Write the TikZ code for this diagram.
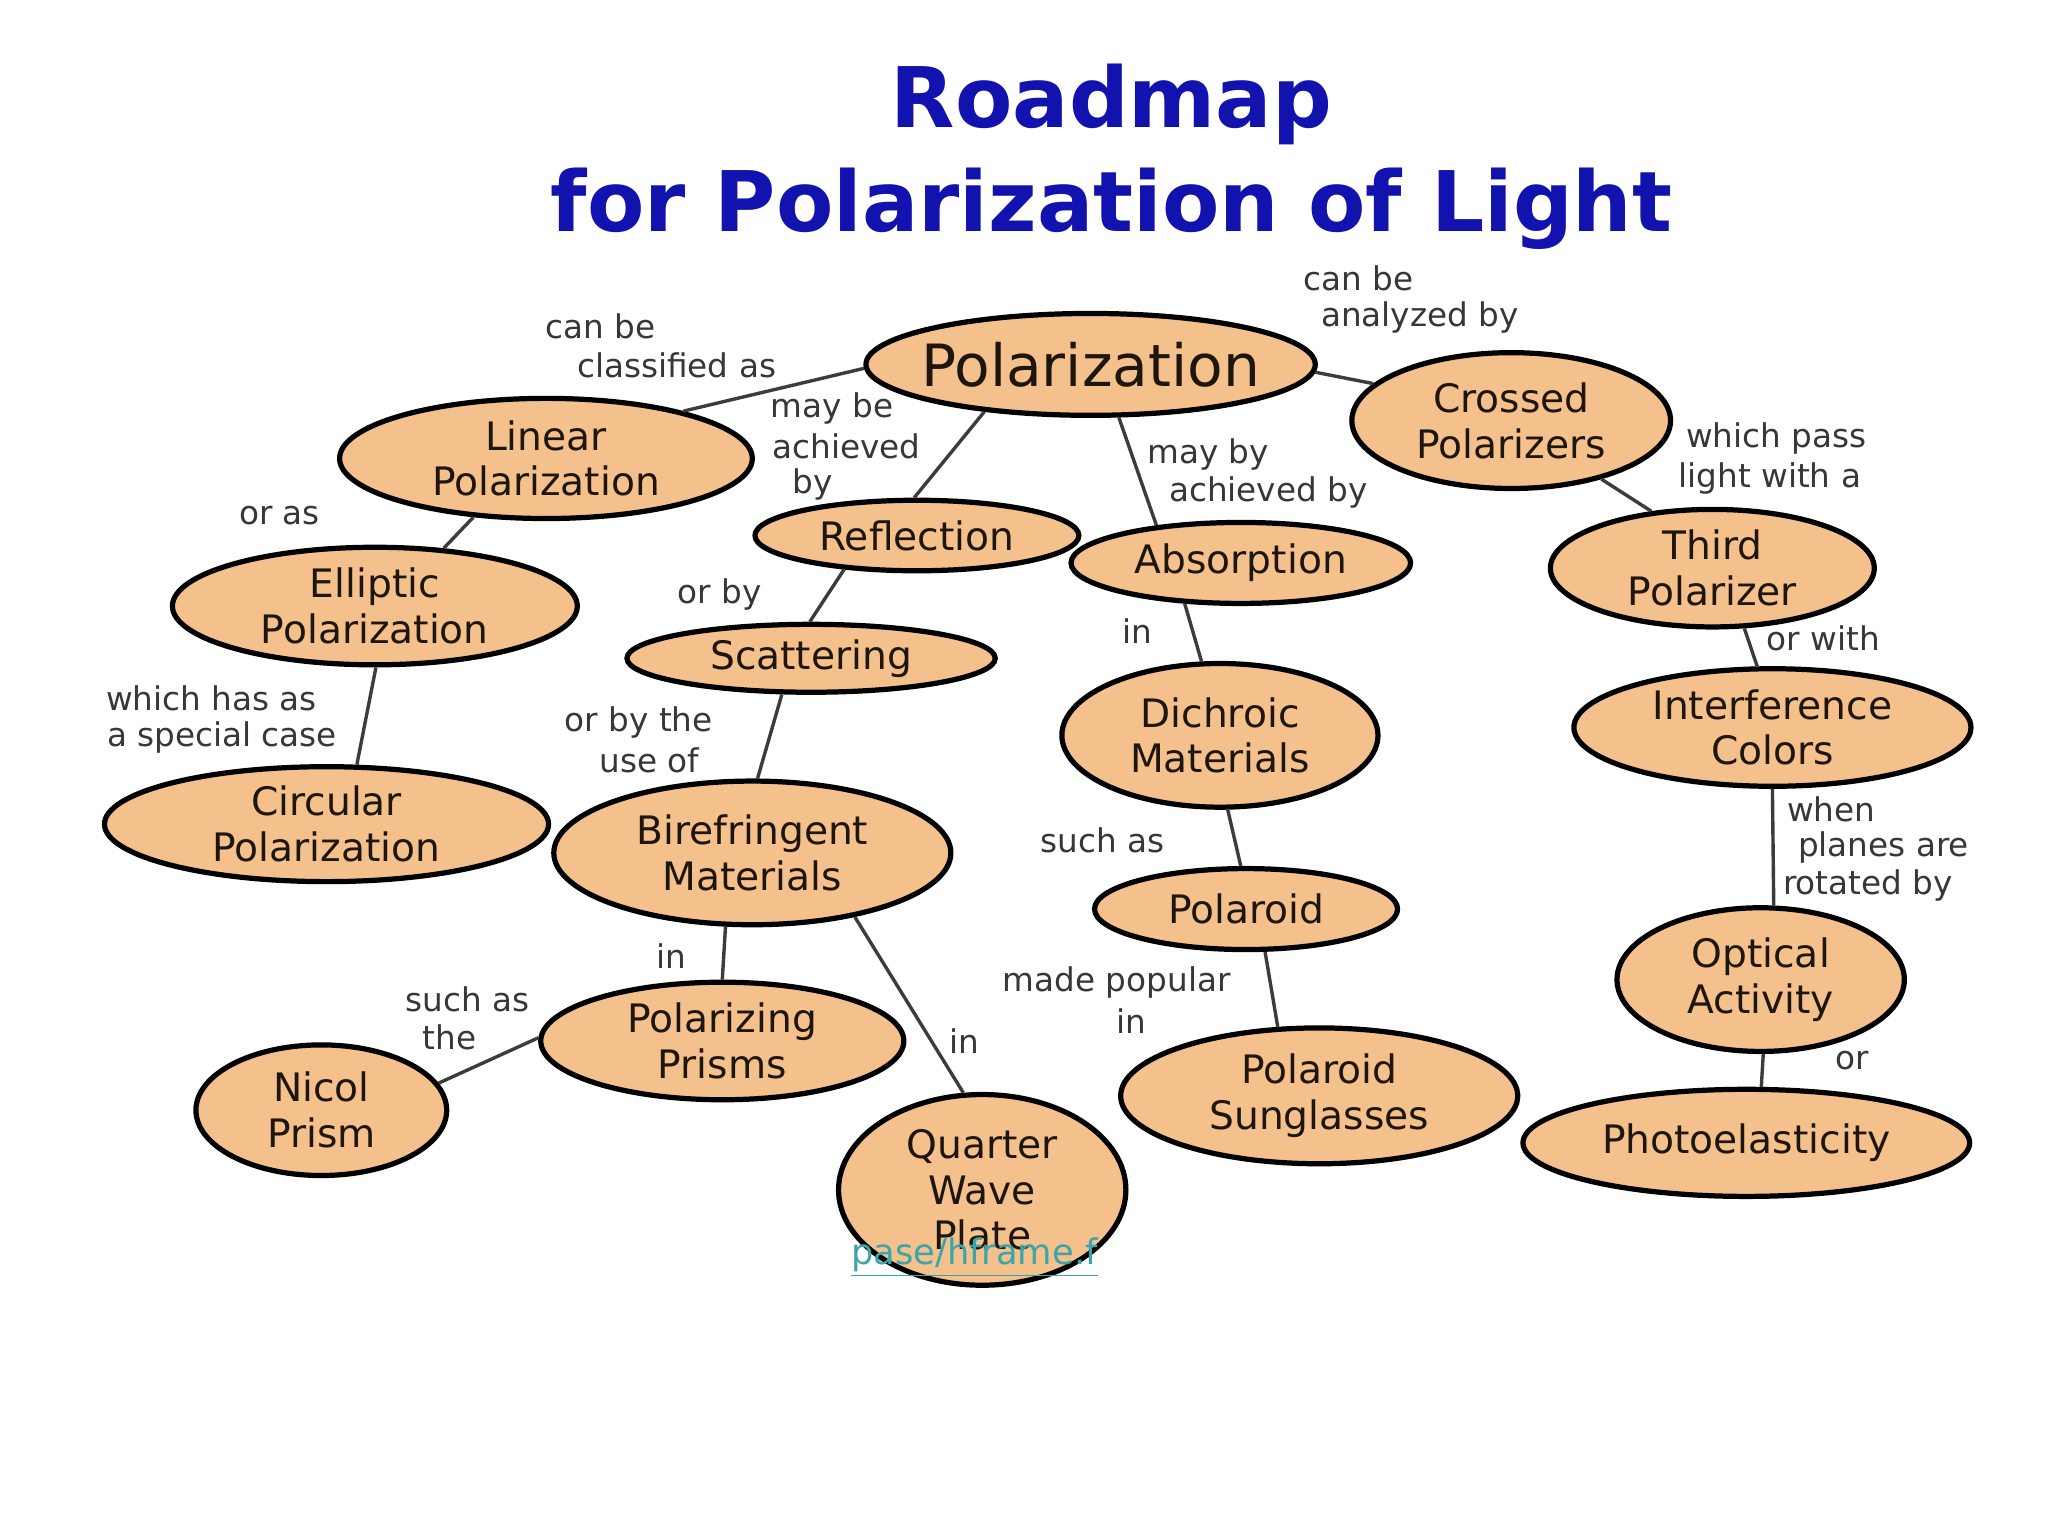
\documentclass[tikz,border=0pt]{standalone}
\usepackage{fontspec}
\setmainfont{DejaVu Sans}
\usetikzlibrary{shapes.geometric}
\definecolor{peach}{RGB}{244,192,140}
\definecolor{titleblue}{RGB}{18,18,175}
\definecolor{nodetext}{RGB}{30,22,12}
\definecolor{labgray}{RGB}{55,55,55}
\definecolor{linegray}{RGB}{60,60,60}
\definecolor{linkteal}{RGB}{60,165,170}
\tikzset{
  bub/.style={ellipse, draw=black, line width=2pt, fill=peach, inner sep=0pt},
  ntext/.style={font=\fontsize{15}{17.5}\selectfont, text=nodetext, align=center, inner sep=0pt},
  lab/.style={font=\fontsize{12.5}{14.5}\selectfont, text=labgray, inner sep=0pt},
  conn/.style={draw=linegray, line width=1.3pt},
}
\newcommand{\bubble}[6]{% name, x, y, rx, ry, text
  \node[bub, minimum width=#4pt, minimum height=#5pt] (#1) at (#2,#3) {};
  \node[ntext] (#1t) at (#1) {#6};
}
\begin{document}
\begin{tikzpicture}[x=0.5pt, y=-0.5pt]
\useasboundingbox[fill=white] (0,0) rectangle (1568,1176);

% title
\node[font=\fontsize{32}{40}\selectfont\bfseries, text=titleblue, align=center, inner sep=0pt] (title) at (851,120) {Roadmap\\for Polarization of Light};

% nodes
\node[bub, minimum width=172pt, minimum height=39pt] (pol) at (835,279) {};
\node[ntext, font=\fontsize{22.3}{26}\selectfont] (polt) at (pol) {Polarization};
\bubble{lin}{418}{351}{158}{46}{Linear\\Polarization}
\bubble{ell}{287}{464}{155}{45}{Elliptic\\Polarization}
\bubble{cir}{250}{631}{170}{44}{Circular\\Polarization}
\bubble{refl}{702}{410}{124}{27}{Reflection}
\bubble{scat}{621}{504}{141}{26}{Scattering}
\bubble{bire}{576}{653}{152}{55}{Birefringent\\Materials}
\bubble{pris}{553}{797}{139}{45}{Polarizing\\Prisms}
\bubble{nic}{246}{850}{96}{50}{Nicol\\Prism}
\bubble{qwp}{752}{911}{110}{73}{Quarter\\Wave\\Plate}
\bubble{abs}{950}{431}{130}{31}{Absorption}
\bubble{dich}{934}{563}{121}{55}{Dichroic\\Materials}
\bubble{prd}{954}{696}{116}{31}{Polaroid}
\bubble{sung}{1010}{839}{152}{52}{Polaroid\\Sunglasses}
\bubble{cross}{1157}{322}{122}{52}{Crossed\\Polarizers}
\bubble{third}{1311}{435}{124}{45}{Third\\Polarizer}
\bubble{intf}{1357}{557}{152}{45}{Interference\\Colors}
\bubble{opt}{1348}{750}{110}{55}{Optical\\Activity}
\bubble{phot}{1337}{875}{171}{41}{Photoelasticity}

% connectors
\draw[conn] (pol.181) -- (lin.19);
\draw[conn] (lin.219) -- (ell.40);
\draw[conn] (ell.271) -- (cir.63);
\draw[conn] (pol.204) -- (refl.94);
\draw[conn] (refl.205) -- (scat.92);
\draw[conn] (scat.231) -- (bire.86);
\draw[conn] (bire.250) -- (pris.90);
\draw[conn] (pris.179) -- (nic.13);
\draw[conn] (bire.328) -- (qwp.101);
\draw[conn] (pol.298) -- (abs.156);
\draw[conn] (abs.216) -- (dich.104);
\draw[conn] (dich.276) -- (prd.97);
\draw[conn] (prd.294) -- (sung.121);
\draw[conn] (pol.358) -- (cross.165);
\draw[conn] (cross.327) -- (third.137);
\draw[conn] (third.298) -- (intf.104);
\draw[conn] (intf.270) -- (opt.80);
\draw[conn] (opt.272) -- (phot.75);

% connector labels
\node[lab] (a1) at (460,250) {can be};
\node[lab] (a2) at (518,280) {classified as};
\node[lab] (b1) at (214,395) {or as};
\node[lab] (c1) at (162,535) {which has as};
\node[lab] (c2) at (170,565) {a special case};
\node[lab] (d1) at (637,313) {may be};
\node[lab] (d2) at (648,342) {achieved};
\node[lab] (d3) at (622,371) {by};
\node[lab] (e1) at (551,455) {or by};
\node[lab] (f1) at (489,553) {or by the};
\node[lab] (f2) at (497,582) {use of};
\node[lab] (g1) at (514,732) {in};
\node[lab] (h1) at (358,765) {such as};
\node[lab] (h2) at (344,794) {the};
\node[lab] (i1) at (738,797) {in};
\node[lab] (j1) at (925,348) {may by};
\node[lab] (j2) at (971,377) {achieved by};
\node[lab] (k1) at (871,483) {in};
\node[lab] (m1) at (844,643) {such as};
\node[lab] (n1) at (855,752) {made popular};
\node[lab] (n2) at (866,782) {in};
\node[lab] (o1) at (1040,213) {can be};
\node[lab] (o2) at (1087,243) {analyzed by};
\node[lab] (p1) at (1360,336) {which pass};
\node[lab] (p2) at (1355,366) {light with a};
\node[lab] (q1) at (1396,489) {or with};
\node[lab] (r1) at (1402,620) {when};
\node[lab] (r2) at (1442,649) {planes are};
\node[lab] (r3) at (1430,678) {rotated by};
\node[lab] (s1) at (1418,812) {or};

% stray link text
\node[font=\fontsize{13.5}{16}\selectfont, text=linkteal, inner sep=0pt] (link) at (746,963) {\underline{pase/hframe.f}};
\end{tikzpicture}
\end{document}
